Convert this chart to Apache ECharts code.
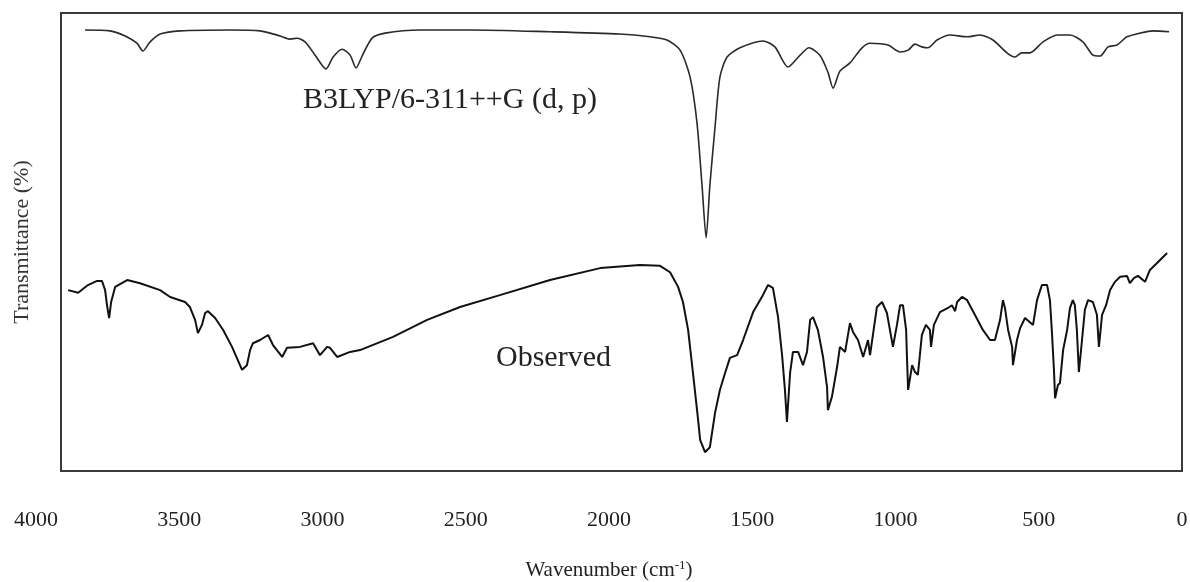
<!DOCTYPE html>
<html>
<head>
<meta charset="utf-8">
<script src="https://cdn.jsdelivr.net/npm/echarts@6/dist/echarts.min.js"></script>
<style>html,body{margin:0;padding:0;background:#fff}#c{width:1190px;height:582px}</style>
</head>
<body>
<div id="c"></div>
<script>
// Wavenumber axis tick labels
const tickLabels = [4000, 3500, 3000, 2500, 2000, 1500, 1000, 500, 0];

// Calculated spectrum: B3LYP/6-311++G (d, p) — [wavenumber, transmittance (a.u.)]
const calcWavenumber = [3829,3742,3689,3648,3627,3602,3567,3497,3323,3218,3148,3113,3089,3061,3026,2988,2963,2932,2904,2883,2862,2827,2782,2660,2485,2206,1962,1857,1798,1752,1717,1693,1675,1661,1648,1630,1613,1588,1543,1463,1421,1375,1333,1302,1264,1236,1218,1194,1159,1117,1089,1026,984,956,932,908,887,855,810,750,705,660,611,583,559,531,485,436,391,346,311,286,258,227,192,147,101,45];
const calcT = [96.3,96.1,95.0,93.4,91.7,93.7,95.4,96.1,96.3,96.1,95.0,94.3,94.5,93.7,90.8,87.8,90.4,92.1,90.8,88.0,90.6,94.5,95.6,96.3,96.3,95.9,95.4,94.8,94.1,91.9,86.0,76.0,62.0,50.9,62.4,75.1,86.0,90.4,92.4,93.9,92.6,88.2,90.8,92.4,90.8,87.1,83.6,87.3,89.1,92.4,93.4,93.0,91.5,91.9,93.2,92.6,92.4,94.1,95.2,94.8,95.2,94.1,91.3,90.4,91.3,91.3,93.7,95.2,95.2,93.7,90.8,90.6,92.6,93.0,94.8,95.6,96.1,95.9];

// Observed spectrum — [wavenumber, transmittance (a.u.)]
const obsWavenumber = [3888,3853,3819,3787,3770,3759,3752,3745,3738,3724,3682,3637,3567,3532,3480,3463,3445,3435,3421,3410,3400,3375,3347,3316,3281,3264,3253,3243,3218,3190,3173,3141,3124,3079,3033,3009,2984,2974,2949,2904,2869,2754,2635,2520,2381,2206,2031,1892,1822,1787,1759,1742,1724,1707,1689,1682,1665,1648,1630,1613,1595,1578,1553,1532,1497,1463,1445,1428,1410,1396,1386,1379,1368,1358,1340,1323,1309,1298,1288,1271,1253,1239,1236,1222,1204,1194,1176,1159,1148,1131,1113,1096,1089,1065,1047,1030,1009,995,984,974,963,960,956,942,932,922,915,908,894,880,876,866,845,817,803,792,785,768,750,723,695,670,653,635,625,618,607,593,590,576,565,548,531,520,506,489,471,461,454,447,443,433,426,415,401,391,381,374,367,360,349,339,328,311,297,290,279,265,251,234,216,192,182,168,154,129,112,87,52];
const obsT = [39.5,38.9,40.6,41.5,41.5,39.5,36.0,33.4,36.9,40.2,41.7,41.0,39.5,38.0,36.9,35.8,33.0,30.1,31.9,34.5,34.9,33.4,30.8,27.1,22.1,23.1,26.4,27.9,28.6,29.7,27.5,24.9,26.9,27.1,27.9,25.3,27.1,26.9,24.9,26.0,26.4,29.3,33.0,35.8,38.4,41.7,44.3,45.0,44.8,43.4,40.2,36.9,30.8,21.4,11.1,6.8,4.1,5.2,12.7,17.7,21.4,24.7,25.3,28.6,34.7,38.4,40.6,40.0,33.6,25.3,17.7,10.7,21.4,26.0,26.0,23.1,26.0,33.0,33.6,30.8,24.9,18.3,13.3,16.2,22.7,27.1,26.0,32.3,30.3,28.6,24.9,28.6,25.3,35.8,36.9,34.5,27.1,31.9,36.2,36.2,30.8,24.7,17.7,23.1,21.6,21.0,25.3,29.7,31.9,30.8,27.1,31.9,34.7,35.6,36.2,34.9,36.9,38.0,37.3,34.1,30.8,28.6,28.6,33.0,37.3,35.6,30.8,27.1,23.1,28.6,31.2,33.4,32.5,31.9,37.3,40.6,40.6,37.3,30.3,22.1,15.9,18.8,19.2,26.4,30.8,35.6,37.3,36.2,30.8,21.6,28.6,35.2,37.3,36.9,34.1,27.1,34.1,36.2,39.5,41.3,42.4,42.6,41.0,42.1,42.6,41.3,43.9,45.4,47.6];

const seriesNames = ['B3LYP/6-311++G (d, p)', 'Observed'];

const zip = (xs, ys) => xs.map((x, i) => [x, ys[i]]);
const FONT = '"Liberation Serif", "DejaVu Serif", serif';

const chart = echarts.init(document.getElementById('c'), null, {renderer: 'canvas'});
chart.setOption({
  animation: false,
  backgroundColor: '#fff',
  grid: [
    {left: 61, right: 8, top: 13, bottom: 111, show: true, borderColor: '#3a3a3a', borderWidth: 2,
     backgroundColor: 'transparent', containLabel: false, outerBoundsMode: 'none'},
    {left: 36, right: 8, top: 13, bottom: 111, show: false, containLabel: false, outerBoundsMode: 'none'}
  ],
  xAxis: [
    {type: 'value', gridIndex: 0, inverse: true, min: 0, max: 3913,
     axisLine: {show: false}, axisTick: {show: false}, axisLabel: {show: false}, splitLine: {show: false}},
    {type: 'value', gridIndex: 1, inverse: true, min: 0, max: 4000, interval: 500,
     axisLine: {show: false}, axisTick: {show: false}, splitLine: {show: false},
     axisLabel: {margin: 38, fontSize: 22, fontFamily: FONT, color: '#222',
       customValues: tickLabels, formatter: v => String(v)},
     name: 'Wavenumber (cm{sup|-1})', nameLocation: 'middle', nameGap: 88,
     nameTextStyle: {fontSize: 21, fontFamily: FONT, color: '#222',
       rich: {sup: {fontSize: 13, fontFamily: FONT, color: '#222', padding: [0, 0, 10, 0]}}}}
  ],
  yAxis: [
    {type: 'value', gridIndex: 0, min: 0, max: 100,
     axisLine: {show: false}, axisTick: {show: false}, axisLabel: {show: false}, splitLine: {show: false},
     name: 'Transmittance (%)', nameLocation: 'middle', nameGap: 28,
     nameTextStyle: {fontSize: 22, fontFamily: FONT, color: '#333'}},
    {type: 'value', gridIndex: 1, min: 0, max: 100, show: false}
  ],
  series: [
    {name: seriesNames[0], type: 'line', xAxisIndex: 0, yAxisIndex: 0,
     data: zip(calcWavenumber, calcT), showSymbol: false, smooth: 0.25,
     lineStyle: {color: '#2a2a2a', width: 1.6}},
    {name: seriesNames[1], type: 'line', xAxisIndex: 0, yAxisIndex: 0,
     data: zip(obsWavenumber, obsT), showSymbol: false, smooth: false,
     lineStyle: {color: '#111', width: 2}}
  ],
  graphic: [
    {type: 'text', left: 303, top: 85, style: {text: seriesNames[0], font: '30px ' + FONT, fill: '#222'}},
    {type: 'text', left: 496, top: 343, style: {text: seriesNames[1], font: '30px ' + FONT, fill: '#222'}}
  ]
});
</script>
</body>
</html>
